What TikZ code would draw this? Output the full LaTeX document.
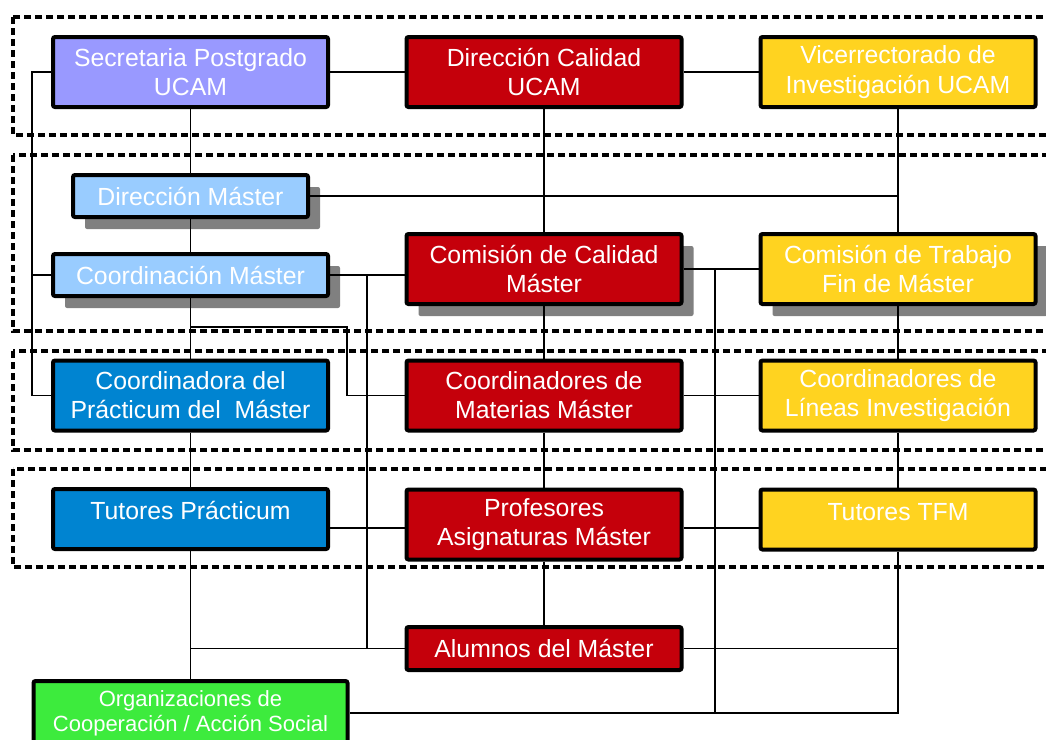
\documentclass[tikz,border=0pt]{standalone}
\usepackage{fontspec}
\setmainfont{Liberation Sans}
\usetikzlibrary{shadows}
\definecolor{lavender}{HTML}{9999FF}
\definecolor{darkred}{HTML}{C5000B}
\definecolor{gold}{HTML}{FFD320}
\definecolor{skyblue}{HTML}{99CCFF}
\definecolor{oceanblue}{HTML}{0084D1}
\definecolor{leafgreen}{HTML}{3DEB3D}
\definecolor{shadowgray}{HTML}{808080}
\tikzset{
    unit/.style={draw=black, line width=2pt, rounded corners=1pt, text=white, align=center,
        font=\fontsize{12.4}{14.6}\selectfont, minimum width=137.5pt, minimum height=35pt, inner sep=0pt},
    flat/.style={unit, minimum height=21pt},
    shade/.style={drop shadow={shadow xshift=6pt, shadow yshift=-6pt, opacity=1, fill=shadowgray}},
    toptext/.style={text height=9pt, text depth=8.5pt, minimum height=30pt},
    band/.style={line width=2pt, dash pattern=on 3.4pt off 2.1pt},
    link/.style={line width=0.6pt}
}
\begin{document}
\begin{tikzpicture}[x=0.5pt, y=-0.5pt]
        \path[use as bounding box, clip] (0,0) rectangle (1046,740);
        %% levels
        \foreach \top/\bot in {17/135, 155/331, 351/450, 469/567}
            \draw[band] (13,\top) rectangle (1070,\bot);
        %% university
        \node[unit, fill=lavender] (sec) at (190.5,72) {Secretaria Postgrado\\UCAM};
        \node[unit, fill=darkred] (dcal) at (544,72) {Dirección Calidad\\UCAM};
        \node[unit, fill=gold] (vic) at (898,72) {Vicerrectorado de\\Investigación UCAM};
        %% master
        \node[flat, shade, fill=skyblue, minimum width=117.5pt] (dmas) at (190.5,196) {Dirección Máster};
        \node[flat, shade, fill=skyblue] (cmas) at (190.5,275) {Coordinación Máster};
        \node[unit, shade, fill=darkred] (ccal) at (544,269) {Comisión de Calidad\\Máster};
        \node[unit, shade, fill=gold] (ctfm) at (898,269) {Comisión de Trabajo\\Fin de Máster};
        %% coordinators
        \node[unit, fill=oceanblue] (cprac) at (190.5,395.5) {Coordinadora del\\Prácticum del\ \ Máster};
        \node[unit, fill=darkred] (cmat) at (544,395.5) {Coordinadores de\\Materias Máster};
        \node[unit, fill=gold] (clin) at (898,395.5) {Coordinadores de\\Líneas Investigación};
        %% tutors
        \node[unit, toptext, fill=oceanblue] (tprac) at (190.5,519) {Tutores Prácticum};
        \node[unit, fill=darkred] (prof) at (544,524.5) {Profesores\\Asignaturas Máster};
        \node[unit, toptext, fill=gold] (ttfm) at (898,519.5) {Tutores TFM};
        %% students
        \node[flat, fill=darkred, minimum height=21.5pt] (alum) at (544,648.5) {Alumnos del Máster};
        \node[unit, fill=leafgreen, minimum width=157pt, minimum height=32pt,
            font=\fontsize{11}{12.5}\selectfont] (org) at (190.5,713) {Organizaciones de\\Cooperación / Acción Social};
        %% helper points
        \coordinate (lf) at (32,0);
        \coordinate (sp) at (367,0);
        \coordinate (tr) at (715,0);
        \coordinate (kink) at (347,327);
        \coordinate (row) at (0,528);
        %% columns
        \foreach \a/\b in {sec/dmas, dmas/cmas, cmas/cprac, cprac/tprac, tprac/org,
                dcal/ccal, ccal/cmat, cmat/prof, prof/alum, vic/ctfm, ctfm/clin, clin/ttfm}
            \draw[link] (\a.south) -- (\b.north);
        %% rows
        \draw[link] (sec) -- (dcal) -- (vic);
        \draw[link] (ccal) -- (ctfm);
        \draw[link] (cmat) -- (clin);
        \draw[link] (tprac.east |- row) -- (prof.west |- row);
        \draw[link] (prof.east |- row) -- (ttfm.west |- row);
        \draw[link] (dmas.east) -- (dmas.east -| vic.south);
        \draw[link] (cmas.east) -- (cmas.east -| ccal.west);
        \draw[link] (alum.west) -- (alum.west -| tprac.south);
        \draw[link] (alum.east) -- (alum.east -| vic.south);
        \draw[link] (ttfm.south) |- (org.east);
        %% side lines
        \draw[link] (sec.west) -| (lf |- cprac.west) -- (cprac.west);
        \draw[link] (cmas.west) -- (cmas.west -| lf);
        \draw[link] (cmas.south |- kink) -| (kink |- cmat.west) -- (cmat.west);
        \draw[link] (cmas.east -| sp) -- (alum.west -| sp);
        \draw[link] (ccal.east -| tr) -- (org.east -| tr);
\end{tikzpicture}
\end{document}
